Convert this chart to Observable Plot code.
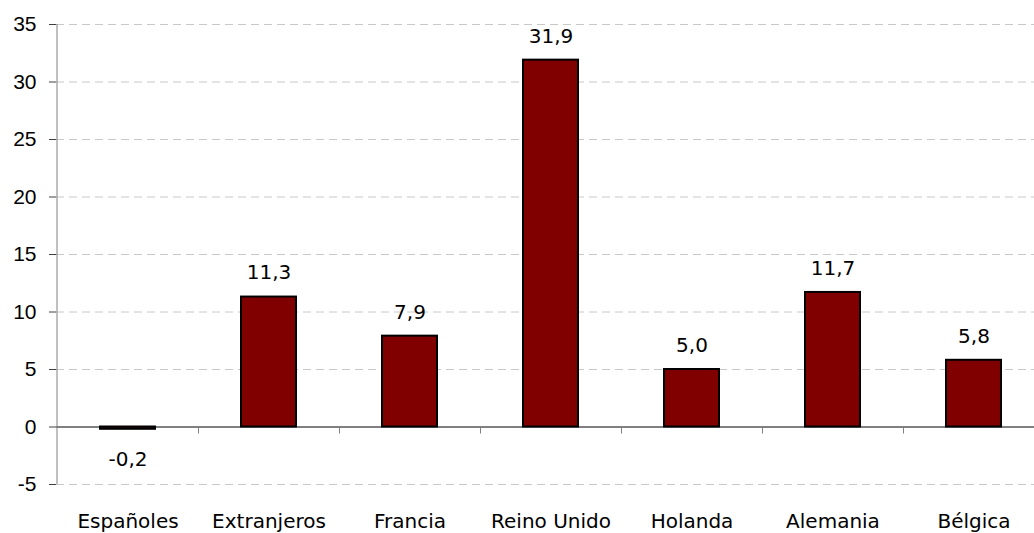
<!DOCTYPE html>
<html>
<head>
<meta charset="utf-8">
<script src="https://cdn.jsdelivr.net/npm/d3@7"></script>
<script src="https://cdn.jsdelivr.net/npm/@observablehq/plot@0.6"></script>
<style>
  html, body { margin: 0; padding: 0; background: #fff; }
  svg { display: block; overflow: hidden; }
</style>
</head>
<body>
<div id="chart"></div>
<script>
const categories = ["Españoles", "Extranjeros", "Francia", "Reino Unido", "Holanda", "Alemania", "Bélgica"];
const values = [-0.2, 11.3, 7.9, 31.9, 5.0, 11.7, 5.8];
const yTicks = [-5, 0, 5, 10, 15, 20, 25, 30, 35];

const data = categories.map((c, i) => ({
  c, v: values[i], label: values[i].toFixed(1).replace(".", ",")
}));

function frameLines(index, scales) {
  const x = scales.x, y = scales.y;
  const g = d3.create("svg:g");
  const x0 = x(categories[0]);
  // vertical axis line
  g.append("line")
    .attr("x1", x0).attr("x2", x0)
    .attr("y1", y(yTicks[yTicks.length - 1])).attr("y2", y(yTicks[0]))
    .attr("stroke", "#808080").attr("stroke-width", 1);
  // ticks between categories below the zero line
  for (const c of categories.slice(1)) {
    const xx = Math.round(x(c)) + 0.5;
    g.append("line")
      .attr("x1", xx).attr("x2", xx)
      .attr("y1", y(0)).attr("y2", y(0) + 7)
      .attr("stroke", "#808080").attr("stroke-width", 1);
  }
  return g.node();
}

const chart = Plot.plot({
  width: 1034,
  height: 533,
  marginTop: 24,
  marginBottom: 49,
  marginLeft: 56,
  marginRight: -10,
  style: { background: "#fff", fontFamily: "DejaVu Sans" },
  x: { domain: categories, padding: 0, axis: null, label: null },
  y: { domain: [-5, 35], axis: null, label: null },
  marks: [
    Plot.ruleY(yTicks.filter(d => d !== 0), { stroke: "#c8c8c8", strokeDasharray: "8,5" }),
    Plot.barY(data, {
      x: "c", y: "v", fill: "#800000", stroke: "#000", strokeWidth: 2,
      insetLeft: 43, insetRight: 43
    }),
    Plot.ruleY([0], { stroke: "#000", strokeWidth: 1 }),
    frameLines,
    Plot.text(data.filter(d => d.v >= 0), {
      x: "c", y: "v", text: "label", dy: -24, fontSize: 20, fill: "#000", fontFamily: "DejaVu Sans"
    }),
    Plot.text(data.filter(d => d.v < 0), {
      x: "c", y: "v", text: "label", dy: 30, fontSize: 20, fill: "#000", fontFamily: "DejaVu Sans"
    }),
    Plot.axisY({
      ticks: yTicks, tickSize: 7, tickPadding: 13, tickFormat: d => String(d), label: null,
      fontSize: 21, fontFamily: "Liberation Sans", stroke: "#404040", color: "#000"
    }),
    Plot.axisX({
      tickSize: 0, tickPadding: 29, fontSize: 20, fontFamily: "DejaVu Sans", color: "#000", label: null
    })
  ]
});

document.getElementById("chart").append(chart);
</script>
</body>
</html>
